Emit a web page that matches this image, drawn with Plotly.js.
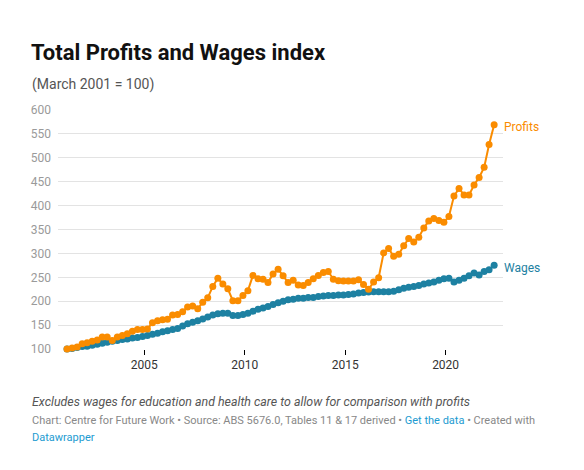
<!DOCTYPE html>
<html>
<head>
<meta charset="utf-8">
<script src="https://cdn.plot.ly/plotly-3.0.1.min.js"></script>
<style>html,body{margin:0;padding:0;background:#fff;} #chart{width:584px;height:470px;}</style>
</head>
<body>
<div id="chart"></div>
<script>
const quarters = [
"2001-03-01","2001-06-01","2001-09-01","2001-12-01",
"2002-03-01","2002-06-01","2002-09-01","2002-12-01",
"2003-03-01","2003-06-01","2003-09-01","2003-12-01",
"2004-03-01","2004-06-01","2004-09-01","2004-12-01",
"2005-03-01","2005-06-01","2005-09-01","2005-12-01",
"2006-03-01","2006-06-01","2006-09-01","2006-12-01",
"2007-03-01","2007-06-01","2007-09-01","2007-12-01",
"2008-03-01","2008-06-01","2008-09-01","2008-12-01",
"2009-03-01","2009-06-01","2009-09-01","2009-12-01",
"2010-03-01","2010-06-01","2010-09-01","2010-12-01",
"2011-03-01","2011-06-01","2011-09-01","2011-12-01",
"2012-03-01","2012-06-01","2012-09-01","2012-12-01",
"2013-03-01","2013-06-01","2013-09-01","2013-12-01",
"2014-03-01","2014-06-01","2014-09-01","2014-12-01",
"2015-03-01","2015-06-01","2015-09-01","2015-12-01",
"2016-03-01","2016-06-01","2016-09-01","2016-12-01",
"2017-03-01","2017-06-01","2017-09-01","2017-12-01",
"2018-03-01","2018-06-01","2018-09-01","2018-12-01",
"2019-03-01","2019-06-01","2019-09-01","2019-12-01",
"2020-03-01","2020-06-01","2020-09-01","2020-12-01",
"2021-03-01","2021-06-01","2021-09-01","2021-12-01",
"2022-03-01","2022-06-01"
];

const profits = [
100,102,104,111, 113,116,119,125, 125,118,125,128, 132,137,141,141,
142,155,159,161, 162,171,172,178, 188,190,184,198, 207,231,248,236,
226,201,201,212, 222,254,247,246, 239,257,267,253, 239,244,234,233,
239,247,254,260, 262,246,243,242, 242,242,245,235, 225,240,249,301,
310,294,298,316, 331,324,334,353, 368,373,369,365, 377,420,436,422,
422,443,459,480, 528,569
];

const wages = [
100,101,103,105, 106,108,110,112, 114,116,118,120, 121,123,124,126,
128,131,133,136, 138,141,143,148, 153,156,159,163, 167,171,174,175,
175,170,170,172, 175,179,183,186, 189,193,197,200, 203,204,206,206,
208,208,210,211, 212,212,213,213, 214,215,217,218, 219,220,220,220,
220,221,224,227, 229,231,233,236, 238,240,244,247, 248,240,244,248,
253,259,255,262, 266,275
];

const seriesNames = ["Profits", "Wages"];
const xTickVals = ["2005-01-01","2010-01-01","2015-01-01","2020-01-01"];
const xTickText = ["2005","2010","2015","2020"];

const ORANGE = "#fa8c00";
const BLUE = "#1d81a2";
const FONT = "Roboto, 'Open Sans', sans-serif";

// plot area geometry (pixels)
const L = 58, R = 503, T = 110, B = 349;
const px = v => (v - L) / (R - L);
const py = v => (B - v) / (B - T);

const traces = [
  {x: quarters, y: wages, name: seriesNames[1], type: "scatter", mode: "lines+markers",
   line: {color: BLUE, width: 2}, marker: {color: BLUE, size: 7}, cliponaxis: false, hoverinfo: "skip"},
  {x: quarters, y: profits, name: seriesNames[0], type: "scatter", mode: "lines+markers",
   line: {color: ORANGE, width: 2}, marker: {color: ORANGE, size: 7}, cliponaxis: false, hoverinfo: "skip"}
];

const last = quarters.length - 1;

const layout = {
  width: 584, height: 470,
  paper_bgcolor: "#fff", plot_bgcolor: "#fff",
  showlegend: false,
  margin: {l: L, r: 584 - R, t: T, b: 470 - B, pad: 0},
  font: {family: FONT, color: "#333"},
  title: {
    text: "<b>Total Profits and Wages index</b>",
    font: {family: FONT, size: 22, color: "#111"},
    xref: "container", yref: "container",
    x: 31 / 584, xanchor: "left",
    y: 1 - 52 / 470, yanchor: "middle"
  },
  xaxis: {
    type: "date",
    range: ["2000-09-18", "2022-11-09"],
    tickvals: xTickVals, ticktext: xTickText,
    ticks: "outside", ticklen: 5, tickcolor: "#000", tickwidth: 1,
    showgrid: false, showline: false, zeroline: false,
    tickfont: {family: FONT, size: 12, color: "#333"},
    fixedrange: true
  },
  yaxis: {
    range: [100, 600], dtick: 50, tick0: 100,
    showgrid: true, gridcolor: "#e3e3e3", gridwidth: 1,
    zeroline: false, showline: false, ticks: "",
    ticklabelstandoff: 6,
    tickfont: {family: FONT, size: 12, color: "#9a9a9a"},
    fixedrange: true
  },
  annotations: [
    {text: "(March 2001 = 100)", xref: "paper", yref: "paper", x: px(30), y: py(84),
     xanchor: "left", yanchor: "middle", showarrow: false,
     font: {family: FONT, size: 14, color: "#555"}},
    {text: seriesNames[0], xref: "x", yref: "y", x: quarters[last], y: profits[last],
     xanchor: "left", yanchor: "middle", xshift: 8, yshift: -2, showarrow: false,
     font: {family: FONT, size: 12, color: ORANGE}},
    {text: seriesNames[1], xref: "x", yref: "y", x: quarters[last], y: wages[last],
     xanchor: "left", yanchor: "middle", xshift: 8, yshift: -3, showarrow: false,
     font: {family: FONT, size: 12, color: BLUE}},
    {text: "<i>Excludes wages for education and health care to allow for comparison with profits</i>",
     xref: "paper", yref: "paper", x: px(30), y: py(401),
     xanchor: "left", yanchor: "middle", showarrow: false,
     font: {family: FONT, size: 12.4, color: "#555"}},
    {text: "Chart: Centre for Future Work • Source: ABS 5676.0, Tables 11 &amp; 17 derived • <span style=\"color:#1d9bd1\">Get the data</span> • Created with",
     xref: "paper", yref: "paper", x: px(30), y: py(420),
     xanchor: "left", yanchor: "middle", showarrow: false,
     font: {family: FONT, size: 11, color: "#888"}},
    {text: "Datawrapper",
     xref: "paper", yref: "paper", x: px(30), y: py(437),
     xanchor: "left", yanchor: "middle", showarrow: false,
     font: {family: FONT, size: 11, color: "#1d9bd1"}}
  ]
};

Plotly.newPlot("chart", traces, layout, {displayModeBar: false, staticPlot: true});
</script>
</body>
</html>
